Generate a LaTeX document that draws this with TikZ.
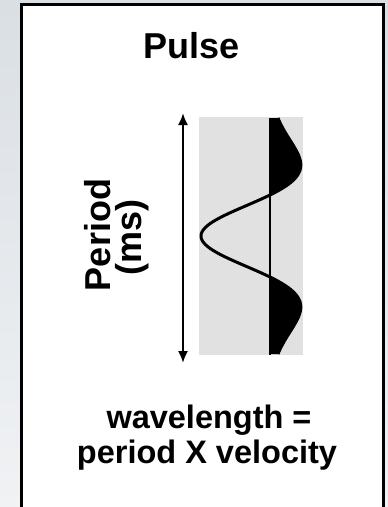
\documentclass[tikz,border=0pt]{standalone}
\usepackage{fontspec}
\setmainfont{Liberation Sans}
\usetikzlibrary{arrows.meta}
\definecolor{bgtop}{RGB}{218,223,228}
\definecolor{bgbot}{RGB}{240,242,244}
\definecolor{panel}{RGB}{225,225,225}

\begin{document}
\begin{tikzpicture}[x=1pt, y=-1pt,
  lbl/.style={font=\bfseries\fontsize{36}{36}\selectfont, inner sep=0pt, anchor=base},
  eqn/.style={font=\bfseries\fontsize{32.5}{35}\selectfont, inner sep=0pt, anchor=base},
  arr/.style={{Latex[length=12pt,width=10pt]}-{Latex[length=12pt,width=10pt]}, line width=2pt},
  wave/.style={line width=3pt, line join=round},
  declare function={rk(\t)=(1-2*(0.01725*\t)^2)*exp(-((0.01725*\t)^2));},
  ]
  \useasboundingbox (0,0) rectangle (388,507);
  \shade[top color=bgtop, bottom color=bgbot] (0,0) rectangle (388,507);

  % frame, open at the bottom
  \begin{scope}
    \clip (0,0) rectangle (388,507);
    \fill[white] (21,4) rectangle (383,520);
    \draw[line width=3pt] (21,520) -- (21,4) -- (383,4) -- (383,520);
  \end{scope}

  \node[lbl] (title) at (191.5,58) {Pulse};

  % trace panel
  \fill[panel] (199,117) rectangle (303,355);
  \begin{scope}
    \clip (270,100) rectangle (320,370);
    \fill plot[domain=-118:118, samples=150, variable=\t]
      ({270-69*rk(\t)}, {236+\t}) -- (270,354) -- (270,118) -- cycle;
  \end{scope}
  \draw[line width=1.5pt] (270,118) -- (270,355);
  \draw[wave] plot[domain=-118:118, samples=150, variable=\t]
    ({270-69*rk(\t)}, {236+\t});

  % period arrow
  \coordinate (arrtop) at (183,113);
  \coordinate (arrbot) at (183,363);
  \draw[arr] (arrtop) -- (arrbot);
  \node[lbl, rotate=90] (period) at (110,235) {Period};
  \node[lbl, rotate=90] (ms) at (141,237.5) {(ms)};

  \node[eqn] (waveeq) at (209,428) {wavelength =};
  \node[eqn] (prodeq) at (207,463) {period X velocity};
\end{tikzpicture}
\end{document}
